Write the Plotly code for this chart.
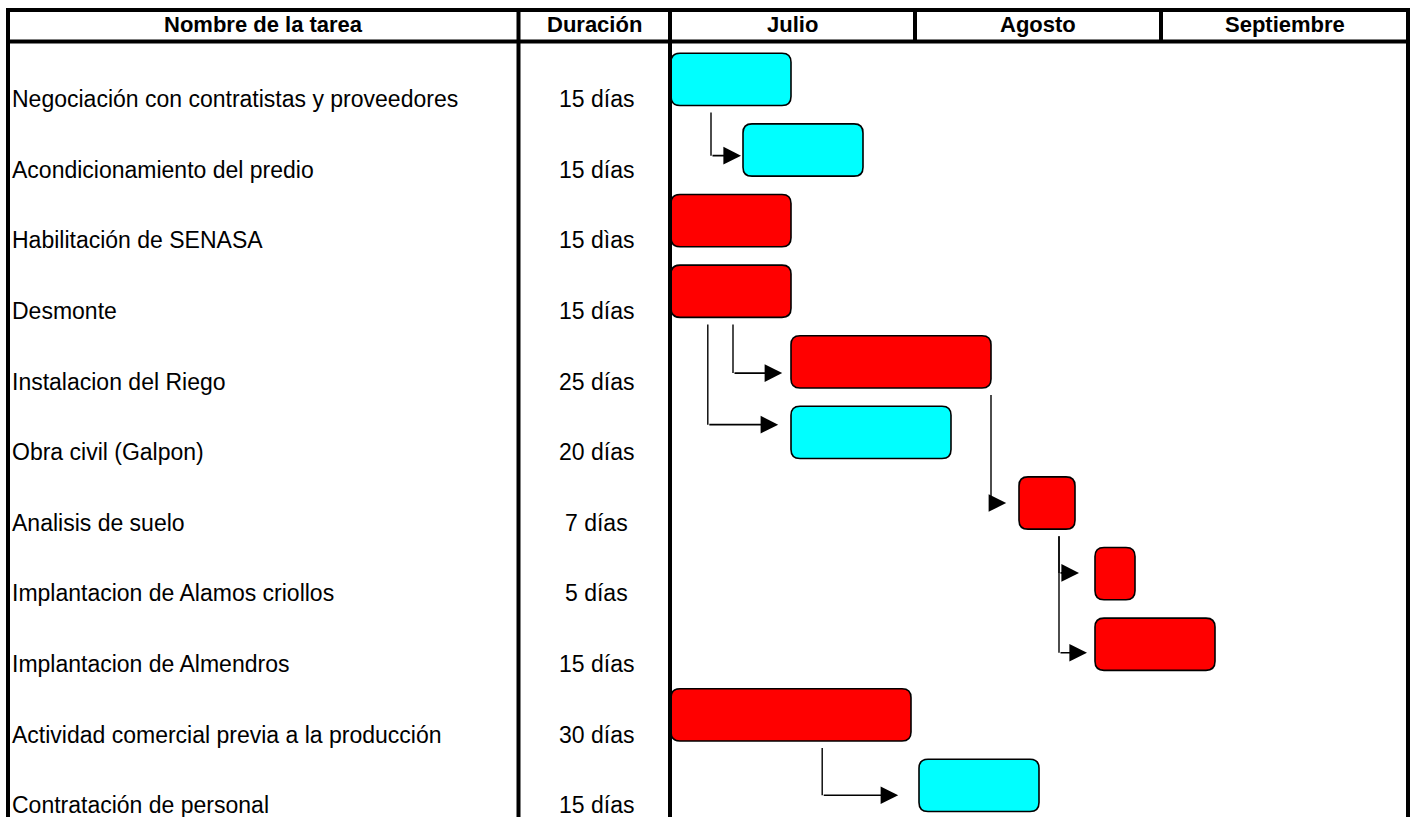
import plotly.graph_objects as go

# ---- schedule data -------------------------------------------------------
tasks = [
    "Negociación con contratistas y proveedores",
    "Acondicionamiento del predio",
    "Habilitación de SENASA",
    "Desmonte",
    "Instalacion del Riego",
    "Obra civil (Galpon)",
    "Analisis de suelo",
    "Implantacion de Alamos criollos",
    "Implantacion de Almendros",
    "Actividad comercial previa a la producción",
    "Contratación de personal",
]
durations = [15, 15, 15, 15, 25, 20, 7, 5, 15, 30, 15]
day_words = ["días", "días", "dìas", "días", "días", "días",
             "días", "días", "días", "días", "días"]
start_day = [0, 9, 0, 0, 15, 15, 43.5, 53, 53, 0, 31]
critical = [False, False, True, True, True, False,
            True, True, True, True, False]

headers = ["Nombre de la tarea", "Duración"]
months = ["Julio", "Agosto", "Septiembre"]
month_days = [31, 31, 30]

# precedence links between tasks
link_from = [0, 3, 3, 4, 6, 6, 9]
link_to = [1, 4, 5, 6, 7, 8, 10]
link_drop_day = [5.0, 7.75, 4.6, 40.0, 48.5, 48.5, 18.9]
link_tip_day = [8.75, 13.9, 13.4, 41.9, 51.0, 52.0, 28.4]
link_row_level = [1.61, 4.69, 5.42, 6.53, 7.52, 8.65, 10.67]

# ---- page geometry (pixels) ----------------------------------------------
W, H = 1413, 817
HEAD_TOP, HEAD_BOT = 10, 41.5
COL_X = [8, 518.5, 670, 915, 1161, 1408]
GANTT_X0, GANTT_X1 = 671, 1407
ROW_PX = 70.6
TOTAL_DAYS = sum(month_days)
PX_PER_DAY = (GANTT_X1 - GANTT_X0) / TOTAL_DAYS
Y_BOTTOM = (H - 42) / ROW_PX

FONT = "Liberation Sans, Arial, sans-serif"
CYAN, RED = "#00FFFF", "#FF0000"


def px(x):
    return x / W


def py(y):
    return 1 - y / H


fig = go.Figure()
shapes = []
annotations = []

# ---- table frame -----------------------------------------------------------
frame = dict(color="black", width=4)
for yy in (HEAD_TOP, HEAD_BOT):
    shapes.append(dict(type="line", xref="paper", yref="paper",
                       x0=px(6), x1=px(1410), y0=py(yy), y1=py(yy),
                       line=frame, layer="above"))
for i, xx in enumerate(COL_X):
    full = i in (0, 1, 2, len(COL_X) - 1)
    shapes.append(dict(type="line", xref="paper", yref="paper",
                       x0=px(xx), x1=px(xx),
                       y0=py(HEAD_TOP - 2), y1=py(H + 2) if full else py(HEAD_BOT),
                       line=frame, layer="above"))

# header captions
head_font = dict(family=FONT, size=22, color="black")
captions = headers + months
for k, cap in enumerate(captions):
    cx = (COL_X[k] + COL_X[k + 1]) / 2
    annotations.append(dict(text="<b>%s</b>" % cap, xref="paper", yref="paper",
                            x=px(cx), y=py(25), xanchor="center", yanchor="middle",
                            showarrow=False, font=head_font))

# task names and durations, sitting low in each row
body_font = dict(family=FONT, size=23, color="black")
TEXT_ROW_POS = 0.81
for i, name in enumerate(tasks):
    annotations.append(dict(text=name, xref="paper", yref="y",
                            x=px(10), y=i + TEXT_ROW_POS,
                            xanchor="left", yanchor="middle",
                            showarrow=False, font=body_font))
    annotations.append(dict(text="%d %s" % (durations[i], day_words[i]),
                            xref="paper", yref="y",
                            x=px(596), y=i + TEXT_ROW_POS,
                            xanchor="center", yanchor="middle",
                            showarrow=False, font=body_font))

# ---- task bars (rounded rectangles in day / row units) ---------------------
rx = 9 / PX_PER_DAY
ry = 9 / ROW_PX
half_h = 0.37
for i in range(len(tasks)):
    x0 = start_day[i]
    x1 = start_day[i] + durations[i]
    yc = i + 0.53
    y0, y1 = yc - half_h, yc + half_h
    path = (
        f"M{x0 + rx},{y0} L{x1 - rx},{y0} Q{x1},{y0} {x1},{y0 + ry} "
        f"L{x1},{y1 - ry} Q{x1},{y1} {x1 - rx},{y1} "
        f"L{x0 + rx},{y1} Q{x0},{y1} {x0},{y1 - ry} "
        f"L{x0},{y0 + ry} Q{x0},{y0} {x0 + rx},{y0} Z"
    )
    shapes.append(dict(type="path", xref="x", yref="y", path=path,
                       fillcolor=RED if critical[i] else CYAN,
                       line=dict(color="black", width=1.6), layer="below"))

# ---- precedence connectors -------------------------------------------------
for k in range(len(link_from)):
    src = link_from[k]
    d = link_drop_day[k]
    lvl = link_row_level[k]
    shapes.append(dict(type="line", xref="x", yref="y",
                       x0=d, x1=d, y0=src + 1.0, y1=lvl,
                       line=dict(color="black", width=1.4), layer="below"))
    annotations.append(dict(text="", x=link_tip_day[k], y=lvl,
                            ax=d, ay=lvl, xref="x", yref="y",
                            axref="x", ayref="y", showarrow=True,
                            arrowhead=2, arrowsize=2.2, arrowwidth=1.6,
                            arrowcolor="black", standoff=0, startstandoff=0))

# invisible trace so the axes are instantiated
fig.add_trace(go.Scatter(x=[0], y=[0], mode="markers",
                         marker=dict(opacity=0), hoverinfo="skip",
                         showlegend=False))

fig.update_layout(
    width=W, height=H,
    margin=dict(l=0, r=0, t=0, b=0),
    paper_bgcolor="white", plot_bgcolor="white",
    showlegend=False,
    shapes=shapes, annotations=annotations,
    xaxis=dict(domain=[px(GANTT_X0), px(GANTT_X1)], range=[0, TOTAL_DAYS],
               visible=False, fixedrange=True),
    yaxis=dict(domain=[0, py(42)], range=[Y_BOTTOM, 0],
               visible=False, fixedrange=True),
)

fig.write_html("out.html")
